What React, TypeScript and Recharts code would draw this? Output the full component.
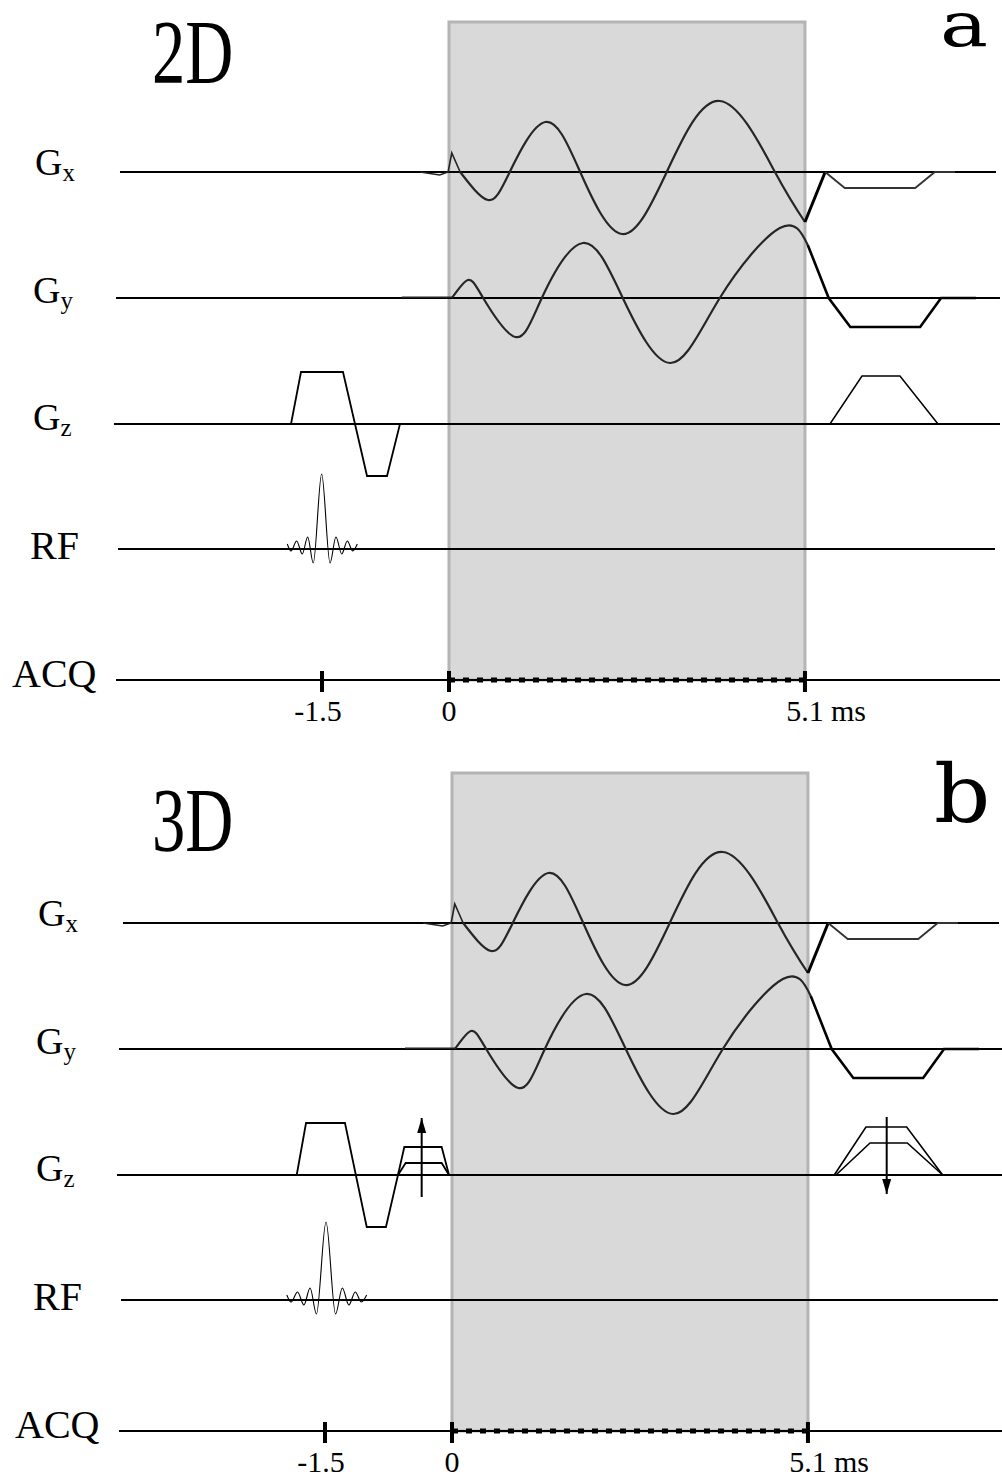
import React from 'react';
import { ComposedChart, Line, XAxis, YAxis, ReferenceArea, ReferenceLine } from 'recharts';

type Pt = [number, number];

// time in ms from the start of the spiral readout; the preparation part
// (before 0) is drawn a bit stretched, as in the usual sequence sketches
const PRE_STRETCH = 1.213;
const toAxis = (t: number) => (t < 0 ? t * PRE_STRETCH : t);

const tickTimes = [-1.5, 0, 5.1];
const tickLabels = ['-1.5', '0', '5.1'];
const tickUnit = 'ms';
const readout: Pt = [0, 5.1];
const readoutTop = 150;

const laneNames = ['Gx', 'Gy', 'Gz', 'RF', 'ACQ'];
const laneOffsets = [0, -126, -252, -377, -508];
const laneStart = [-3.886, -3.933, -3.957, -3.909, -3.933];
const laneEnd = [7.837, 7.894, 7.894, 7.822, 7.894];

// Gx: spiral readout then rewinder (amplitudes in a.u.)
const gxLead: Pt[] = [[-0.34, 0], [-0.11, -3], [-0.01, 0], [0.04, 19], [0.16, 0]];
const gxSpiral: Pt[] = [
  [0.16, 0], [0.56, -28], [0.87, 0], [1.38, 50], [1.88, 0],
  [2.48, -62], [3.12, 0], [3.88, 71], [4.67, 0], [5.1, -50],
];
const gxRamp: Pt[] = [[5.1, -50], [5.39, 0]];
const gxRewind: Pt[] = [[5.39, 0], [5.67, -16], [6.68, -16], [6.96, 0], [7.25, 0]];

// Gy
const gyLead: Pt[] = [[-0.555, 0.8], [0.043, 0.8]];
const gySpiral: Pt[] = [
  [0.043, 0], [0.27, 18], [0.49, 0], [0.95, -39], [1.33, 0], [1.92, 55],
  [2.49, 0], [3.17, -65], [3.88, 0], [4.74, 70], [5.14, 53],
];
const gyRewind: Pt[] = [[5.14, 53], [5.44, 0], [5.75, -29], [6.75, -29], [7.05, 0], [7.55, 0]];

// Gz, 2D: slice select + refocus, spoiler after readout
const gzSlice2D: Pt[] = [[-1.866, 0], [-1.748, 52], [-1.252, 52], [-0.968, -52], [-0.732, -52], [-0.579, 0]];
const gzSpoiler: Pt[] = [[5.458, 0], [5.917, 48], [6.461, 48], [7.006, 0]];

// Gz, 3D: slice select + partition encode / rewind (two of the steps shown)
const gzSlice3D: Pt[] = [[-1.834, 0], [-1.724, 52], [-1.264, 52], [-1.007, -52], [-0.78, -52], [-0.638, 0]];
const gzEncodeHigh: Pt[] = [[-0.638, 0], [-0.563, 28], [-0.122, 28], [-0.035, 0]];
const gzEncodeLow: Pt[] = [[-0.638, 0], [-0.547, 12], [-0.122, 12], [-0.035, 0]];
const gzEncodeArrow: Pt[] = [[-0.358, -22], [-0.358, 57]];
const gzRewindHigh: Pt[] = [[5.477, 0], [5.931, 48], [6.514, 48], [7.03, 0]];
const gzRewindLow: Pt[] = [[5.501, 0], [5.989, 32], [6.523, 32], [7.03, 0]];
const gzRewindArrow: Pt[] = [[6.228, 58], [6.228, -19]];

// sinc RF excitation
const rf2D: Pt[] = [
  [-1.91, 5], [-1.866, -2], [-1.799, 8], [-1.733, -5], [-1.669, 12], [-1.603, -14],
  [-1.504, 75], [-1.405, -14], [-1.335, 12], [-1.267, -5], [-1.201, 8], [-1.137, -2], [-1.083, 5],
];
const rf3D: Pt[] = [
  [-1.951, 5], [-1.901, -2], [-1.824, 8], [-1.749, -5], [-1.676, 12], [-1.601, -14],
  [-1.488, 78], [-1.375, -14], [-1.295, 12], [-1.218, -5], [-1.143, 8], [-1.07, -2], [-1.008, 5],
];

const FONT = "'Liberation Serif', 'Times New Roman', serif";
const U_MIN = -4.828;
const U_MAX = 7.923;
const Y_TOP = 172;
const ACQ_GAP = 22; // room below the ACQ lane so its marks are not clipped
const labelX = [35, 33, 33, 30, 12];
const labelDy = [3, 5, 6, 10, 7];

const trace = (pts: Pt[], lane: number) =>
  pts.map(([t, a]) => ({ u: toAxis(t), g: laneOffsets[lane] + a }));

interface Seg {
  pts: Pt[];
  lane: number;
  curve: 'linear' | 'natural' | 'monotone';
  w: number;
  color?: string;
  dash?: string;
  arrow?: 1 | -1;
}

const arrowDot = (dir: 1 | -1) => (p: any) => {
  if (p.index !== 1) return <g key={`n${p.index}`} />;
  const { cx, cy } = p;
  return (
    <polygon
      key={`h${p.index}`}
      points={`${cx},${cy} ${cx - 4.5},${cy + dir * 15} ${cx + 4.5},${cy + dir * 15}`}
      fill="#000"
    />
  );
};

const LaneTick = (props: any) => {
  const { y, payload } = props;
  const i = laneOffsets.indexOf(payload.value);
  if (i < 0) return <g />;
  const name = laneNames[i];
  const yy = y + labelDy[i];
  if (name.startsWith('G')) {
    return (
      <text x={labelX[i]} y={yy} fontFamily={FONT} fontSize={38} fill="#000">
        G
        <tspan fontSize={25} dy={6}>{name.slice(1)}</tspan>
      </text>
    );
  }
  return (
    <text x={labelX[i]} y={yy} fontFamily={FONT} fontSize={40} fill="#000">
      {name}
    </text>
  );
};

const AcqTick = (props: any) => {
  const { x, payload } = props;
  const y = props.y - ACQ_GAP;
  let i = 0;
  tickTimes.forEach((t, k) => {
    if (Math.abs(toAxis(t) - payload.value) < Math.abs(toAxis(tickTimes[i]) - payload.value)) i = k;
  });
  const last = i === tickTimes.length - 1;
  return (
    <g>
      <line x1={x} x2={x} y1={y - 9} y2={y + 12} stroke="#000" strokeWidth={4} />
      <text x={x} dx={tickLabels[i].startsWith('-') ? -4 : 0} y={y + 41} textAnchor="middle" fontFamily={FONT} fontSize={30} fill="#000">
        {tickLabels[i]}
      </text>
      {last && (
        <text x={x + 26} y={y + 41} fontFamily={FONT} fontSize={30} fill="#000">
          {tickUnit}
        </text>
      )}
    </g>
  );
};

const common: Seg[] = [
  { pts: gxLead, lane: 0, curve: 'linear', w: 1.6, color: '#222' },
  { pts: gxSpiral, lane: 0, curve: 'natural', w: 2.2, color: '#262626' },
  { pts: gxRamp, lane: 0, curve: 'linear', w: 3, color: '#000' },
  { pts: gxRewind, lane: 0, curve: 'linear', w: 1.8, color: '#333' },
  { pts: gyLead, lane: 1, curve: 'linear', w: 1.6, color: '#222' },
  { pts: gySpiral, lane: 1, curve: 'natural', w: 2.2, color: '#262626' },
  { pts: gyRewind, lane: 1, curve: 'linear', w: 2.6, color: '#000' },
  { pts: [[readout[0], 0], [readout[1], 0]], lane: 4, curve: 'linear', w: 5, color: '#000', dash: '6 8' },
];

const panel2D: Seg[] = [
  ...common,
  { pts: gzSlice2D, lane: 2, curve: 'linear', w: 1.8 },
  { pts: gzSpoiler, lane: 2, curve: 'linear', w: 1.5 },
  { pts: rf2D, lane: 3, curve: 'monotone', w: 1.1 },
];

const panel3D: Seg[] = [
  ...common,
  { pts: gzSlice3D, lane: 2, curve: 'linear', w: 1.8 },
  { pts: gzEncodeHigh, lane: 2, curve: 'linear', w: 1.8 },
  { pts: gzEncodeLow, lane: 2, curve: 'linear', w: 1.8 },
  { pts: gzEncodeArrow, lane: 2, curve: 'linear', w: 2, arrow: 1 },
  { pts: gzRewindHigh, lane: 2, curve: 'linear', w: 1.6 },
  { pts: gzRewindLow, lane: 2, curve: 'linear', w: 1.6 },
  { pts: gzRewindArrow, lane: 2, curve: 'linear', w: 2, arrow: -1 },
  { pts: rf3D, lane: 3, curve: 'monotone', w: 1.1 },
];

const Panel: React.FC<{ segs: Seg[] }> = ({ segs }) => (
  <ComposedChart width={1002} height={751} margin={{ top: 0, right: 0, bottom: 0, left: 0 }}>
    <XAxis
      type="number"
      dataKey="u"
      domain={[U_MIN, U_MAX]}
      allowDataOverflow
      ticks={tickTimes.map(toAxis)}
      interval={0}
      tick={(p: any) => <AcqTick {...p} />}
      tickLine={false}
      axisLine={false}
      tickSize={0}
      tickMargin={0}
      height={751 - (Y_TOP - laneOffsets[4] + ACQ_GAP)}
    />
    <YAxis
      type="number"
      domain={[laneOffsets[4] - ACQ_GAP, Y_TOP]}
      allowDataOverflow
      ticks={laneOffsets}
      interval={0}
      tick={(p: any) => <LaneTick {...p} />}
      tickLine={false}
      axisLine={false}
      tickSize={0}
      tickMargin={0}
      width={112}
    />
    <ReferenceArea
      x1={toAxis(readout[0])}
      x2={toAxis(readout[1])}
      y1={laneOffsets[4]}
      y2={readoutTop}
      fill="#d9d9d9"
      fillOpacity={1}
      stroke="#b4b4b4"
      strokeWidth={3}
    />
    {laneOffsets.map((off, i) => (
      <ReferenceLine
        key={`lane${i}`}
        segment={[{ x: toAxis(laneStart[i]), y: off }, { x: toAxis(laneEnd[i]), y: off }]}
        stroke="#000"
        strokeWidth={1.8}
      />
    ))}
    {segs.map((s, i) => (
      <Line
        key={`seg${i}`}
        data={trace(s.pts, s.lane)}
        dataKey="g"
        type={s.curve}
        stroke={s.color ?? '#000'}
        strokeWidth={s.w}
        strokeDasharray={s.dash}
        dot={s.arrow ? arrowDot(s.arrow) : false}
        activeDot={false}
        isAnimationActive={false}
      />
    ))}
  </ComposedChart>
);

const App: React.FC = () => (
  <div style={{ position: 'absolute', left: 0, top: 0, width: 1002, height: 1483, overflow: 'hidden', background: '#fff' }}>
    <div style={{ position: 'absolute', left: 0, top: 0 }}>
      <Panel segs={panel2D} />
    </div>
    <div style={{ position: 'absolute', left: 3, top: 751 }}>
      <Panel segs={panel3D} />
    </div>
    <svg width={1002} height={1483} style={{ position: 'absolute', left: 0, top: 0, pointerEvents: 'none' }}>
      <text transform="translate(152,83) scale(0.74,1)" fontFamily={FONT} fontSize={90} fill="#000">2D</text>
      <text transform="translate(152,851) scale(0.74,1)" fontFamily={FONT} fontSize={90} fill="#000">3D</text>
      <text transform="translate(940,46) scale(1.3,1)" fontFamily="'DejaVu Serif', serif" fontSize={62} fill="#000">a</text>
      <text transform="translate(934,822) scale(1.1,1)" fontFamily="'DejaVu Serif', serif" fontSize={80} fill="#000">b</text>
    </svg>
  </div>
);

export default App;
